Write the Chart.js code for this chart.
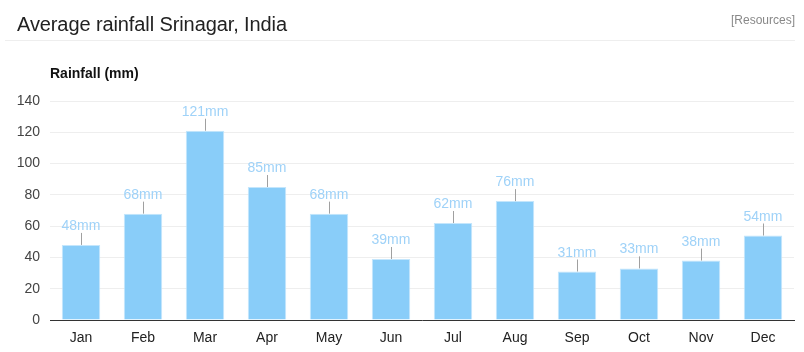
<!DOCTYPE html>
<html>
<head>
<meta charset="utf-8">
<script src="https://cdn.jsdelivr.net/npm/chart.js@4"></script>
<style>
  body { margin: 0; background: #fff; }
  #wrap { position: relative; width: 804px; height: 352px; font-family: "Liberation Sans", Arial, sans-serif; }
  #title { position: absolute; left: 17px; top: 13px; font-size: 20px; color: #222; letter-spacing: -0.1px; }
  #res { position: absolute; right: 9px; top: 13px; font-size: 12px; color: #888; }
  #rule { position: absolute; left: 5px; right: 9px; top: 40px; height: 1px; background: #eee; }
  canvas { position: absolute; left: 0; top: 0; }
</style>
</head>
<body>
<div id="wrap">
  <canvas id="chart" width="804" height="352"></canvas>
  <div id="title">Average rainfall Srinagar, India</div>
  <div id="res">[Resources]</div>
  <div id="rule"></div>
</div>
<script>
// dados
const months = ['Jan', 'Feb', 'Mar', 'Apr', 'May', 'Jun', 'Jul', 'Aug', 'Sep', 'Oct', 'Nov', 'Dec'];
const rainfall = [48, 68, 121, 85, 68, 39, 62, 76, 31, 33, 38, 54];
const yTicks = [0, 20, 40, 60, 80, 100, 120, 140];
const axisTitle = 'Rainfall (mm)';
const unit = 'mm';

const barColor = '#89cdf9';
const labelColor = '#9fd2f8';
const fontFamily = '"Liberation Sans", Arial, sans-serif';

// rotulos acima das barras, com a linha cinza
const barLabels = {
    id: 'barLabels',
    afterDatasetsDraw: (chart) => {
        const ctx = chart.ctx;
        const meta = chart.getDatasetMeta(0);
        ctx.save();
        ctx.font = '14px ' + fontFamily;
        ctx.textAlign = 'center';
        ctx.textBaseline = 'alphabetic';
        meta.data.forEach((bar, i) => {
            const x = Math.round(bar.x) + 0.5;
            ctx.strokeStyle = '#a0a0a0';
            ctx.lineWidth = 1;
            ctx.beginPath();
            ctx.moveTo(x, bar.y);
            ctx.lineTo(x, bar.y - 12);
            ctx.stroke();
            ctx.fillStyle = labelColor;
            ctx.fillText(rainfall[i] + unit, bar.x, bar.y - 15);
        });
        // titulo do eixo
        ctx.fillStyle = '#111';
        ctx.font = 'bold 14px ' + fontFamily;
        ctx.textAlign = 'left';
        ctx.textBaseline = 'middle';
        ctx.fillText(axisTitle, 50, 74);
        ctx.restore();
    }
};

new Chart(document.getElementById('chart'), {
    type: 'bar',
    data: {
        labels: months,
        datasets: [{
            data: rainfall,
            backgroundColor: barColor,
            borderColor: '#c4e6fc',
            borderWidth: 1,
            barPercentage: 0.62,
            categoryPercentage: 1
        }]
    },
    options: {
        responsive: false,
        devicePixelRatio: 1,
        animation: false,
        layout: { padding: { left: 0, right: 10, top: 101, bottom: 0 } },
        plugins: { legend: { display: false }, tooltip: { enabled: false } },
        scales: {
            x: {
                grid: { display: false, drawTicks: false },
                border: { color: '#333', width: 1 },
                ticks: { color: '#222', padding: 10, font: { size: 14, family: fontFamily } },
                afterFit: (s) => { s.height = 32; }
            },
            y: {
                min: 0,
                max: 140,
                afterBuildTicks: (s) => { s.ticks = yTicks.map(v => ({ value: v })); },
                grid: { color: '#eee', drawTicks: false },
                border: { display: false },
                ticks: { color: '#444', padding: 10, font: { size: 14, family: fontFamily } },
                afterFit: (s) => { s.width = 50; }
            }
        }
    },
    plugins: [barLabels]
});
</script>
</body>
</html>
